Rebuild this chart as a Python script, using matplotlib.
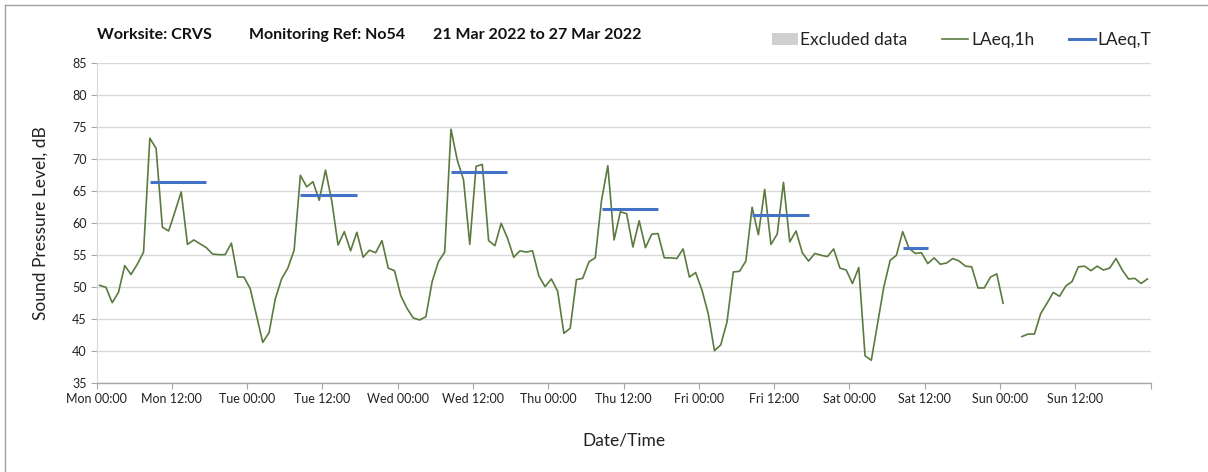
import numpy as np
import matplotlib
matplotlib.use("Agg")
import matplotlib.pyplot as plt
from matplotlib.patches import Patch
from matplotlib.lines import Line2D

plt.rcParams['font.family'] = ['Lato', 'DejaVu Sans']

# ---- data ----
nan = np.nan
laeq_1h = [
    # Mon
    50.3, 50.0, 47.6, 49.2, 53.4, 52.0, 53.6, 55.5, 73.3, 71.7, 59.4, 58.8,
    61.8, 64.9, 56.7, 57.4, 56.8, 56.2, 55.2, 55.1, 55.1, 56.9, 51.6, 51.6,
    # Tue
    49.8, 45.6, 41.4, 42.9, 48.2, 51.3, 53.0, 55.8, 67.5, 65.7, 66.5, 63.6,
    68.3, 63.5, 56.6, 58.7, 55.7, 58.6, 54.7, 55.8, 55.4, 57.3, 53.0, 52.6,
    # Wed
    48.7, 46.7, 45.2, 44.9, 45.4, 50.9, 54.0, 55.5, 74.7, 69.9, 66.8, 56.7,
    68.9, 69.2, 57.3, 56.5, 60.0, 57.7, 54.7, 55.7, 55.5, 55.7, 51.8, 50.1,
    # Thu
    51.3, 49.4, 42.8, 43.6, 51.2, 51.4, 54.0, 54.6, 63.6, 69.0, 57.4, 61.8,
    61.5, 56.3, 60.4, 56.2, 58.3, 58.4, 54.6, 54.6, 54.5, 56.0, 51.6, 52.3,
    # Fri
    49.6, 45.9, 40.1, 41.0, 44.6, 52.4, 52.5, 54.1, 62.5, 58.2, 65.3, 56.7,
    58.3, 66.4, 57.1, 58.8, 55.4, 54.1, 55.3, 55.0, 54.8, 56.0, 53.0, 52.7,
    # Sat
    50.6, 53.1, 39.3, 38.6, 44.4, 50.1, 54.2, 55.0, 58.7, 56.1, 55.3, 55.4,
    53.7, 54.6, 53.6, 53.8, 54.5, 54.1, 53.3, 53.2, 49.9, 49.9, 51.6, 52.1,
    # Sun
    47.5, nan, nan, 42.3, 42.7, 42.7, 45.9, 47.5, 49.2, 48.6, 50.2, 50.9,
    53.2, 53.3, 52.6, 53.3, 52.7, 53.0, 54.5, 52.7, 51.3, 51.4, 50.6, 51.3,
]
# LAeq,T periods (first hour index, last hour index, level)
laeqT_first = [8, 32, 56, 80, 104, 128]
laeqT_last = [17, 41, 65, 89, 113, 132]
laeqT_value = [66.5, 64.4, 68.0, 62.2, 61.3, 56.1]

tick_labels = ["Mon 00:00", "Mon 12:00", "Tue 00:00", "Tue 12:00",
               "Wed 00:00", "Wed 12:00", "Thu 00:00", "Thu 12:00",
               "Fri 00:00", "Fri 12:00", "Sat 00:00", "Sat 12:00",
               "Sun 00:00", "Sun 12:00", ""]

title_parts = ["Worksite: CRVS", "Monitoring Ref: No54", "21 Mar 2022 to 27 Mar 2022"]
title_x = [97, 249, 433]

# ---- figure ----
W, H = 1208, 472
fig = plt.figure(figsize=(W / 100, H / 100), dpi=100)
ax = fig.add_axes([96.5 / W, 1 - 383.3 / H, (1150.5 - 96.5) / W, (383.3 - 63.3) / H])

green = '#5a7a3e'
blue = '#4472C4'
grid_c = '#d9d9d9'

hours = np.arange(len(laeq_1h)) + 0.5
ax.plot(hours, laeq_1h, color=green, lw=1.2, zorder=3)

for f, l, v in zip(laeqT_first, laeqT_last, laeqT_value):
    ax.plot([f + 0.5, l + 0.5], [v, v], color=blue, lw=2.2, zorder=4,
            solid_capstyle='butt')

ax.set_xlim(0, 168)
ax.set_ylim(35, 85)
ax.set_yticks(np.arange(35, 86, 5))
ax.set_xticks(np.arange(0, 169, 12))
ax.set_xticklabels(tick_labels)
ax.set_xticks(np.arange(0, 169, 24), minor=True)

ax.grid(True, which='minor', axis='x', color=grid_c, lw=1.0, zorder=0)
ax.grid(True, which='major', axis='y', color=grid_c, lw=1.0, zorder=0)
ax.grid(False, which='major', axis='x')
ax.tick_params(axis='x', which='minor', length=0)
ax.tick_params(axis='both', which='major', color='#a6a6a6', length=4,
               labelsize=9, labelcolor='#222222', pad=3)
for s in ['top', 'right']:
    ax.spines[s].set_visible(False)
ax.spines['left'].set_color(grid_c)
ax.spines['bottom'].set_color('#a6a6a6')
ax.spines['bottom'].set_linewidth(1.0)

ax.set_ylabel("Sound Pressure Level, dB", fontsize=12.5, color='#222222', labelpad=17)
ax.set_xlabel("Date/Time", fontsize=12.5, color='#222222', labelpad=20)

for t, x in zip(title_parts, title_x):
    fig.text(x / W, 1 - 35 / H, t, fontsize=11.5, fontweight='bold',
             ha='left', va='center', color='#111111')

handles = [Patch(facecolor='#d0d0d0', edgecolor='none'),
           Line2D([], [], color=green, lw=1.2),
           Line2D([], [], color=blue, lw=2.2)]
fig.legend(handles, ["Excluded data", "LAeq,1h", "LAeq,T"], ncol=3,
           loc='center right', bbox_to_anchor=(1167 / W, 1 - 40 / H),
           frameon=False, fontsize=12.5, handlelength=1.5, handletextpad=0.15,
           columnspacing=2.0, labelcolor='#222222')

# outer chart border (top and left visible)
fig.add_artist(Line2D([5 / W, 1], [1 - 5 / H, 1 - 5 / H], color='#a0a0a0', lw=1,
                      transform=fig.transFigure))
fig.add_artist(Line2D([5 / W, 5 / W], [0, 1 - 5 / H], color='#a0a0a0', lw=1,
                      transform=fig.transFigure))

fig.savefig("out.png", dpi=100)
